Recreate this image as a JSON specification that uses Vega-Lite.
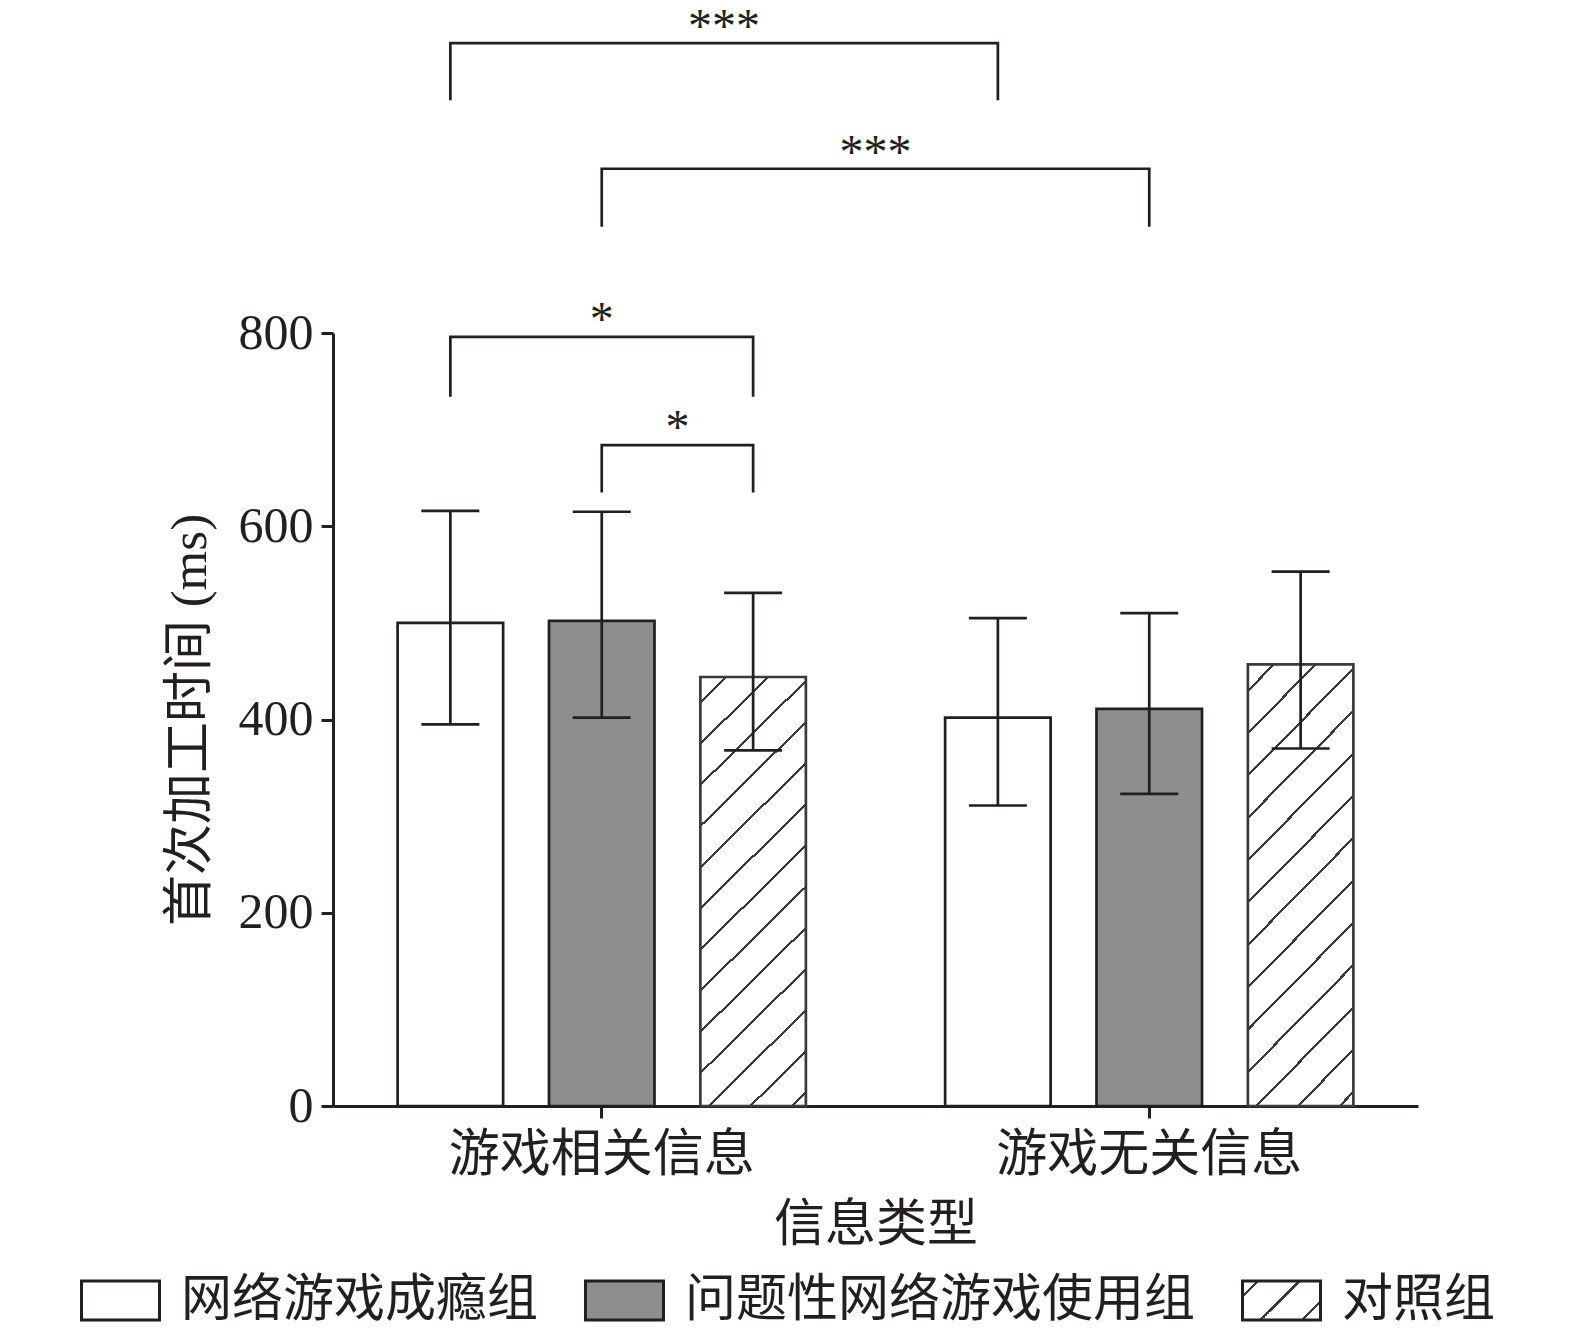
{
  "$schema": "https://vega.github.io/schema/vega-lite/v6.json",
  "width": 1085,
  "height": 773,
  "autosize": {"type": "none"},
  "padding": {"left": 333, "top": 333, "right": 157, "bottom": 225},
  "background": "white",
  "datasets": {
    "bars": [
      {"信息类型": "游戏相关信息", "组别": "网络游戏成瘾组", "均值": 500, "下限": 395, "上限": 616},
      {"信息类型": "游戏相关信息", "组别": "问题性网络游戏使用组", "均值": 502, "下限": 402, "上限": 615},
      {"信息类型": "游戏相关信息", "组别": "对照组", "均值": 444, "下限": 368, "上限": 531},
      {"信息类型": "游戏无关信息", "组别": "网络游戏成瘾组", "均值": 402, "下限": 311, "上限": 505},
      {"信息类型": "游戏无关信息", "组别": "问题性网络游戏使用组", "均值": 411, "下限": 323, "上限": 510},
      {"信息类型": "游戏无关信息", "组别": "对照组", "均值": 457, "下限": 370, "上限": 553}
    ],
    "brackets": [
      {"括号": "A", "点序": 1, "信息类型": "游戏相关信息", "组别": "网络游戏成瘾组", "值": 1041},
      {"括号": "A", "点序": 2, "信息类型": "游戏相关信息", "组别": "网络游戏成瘾组", "值": 1100},
      {"括号": "A", "点序": 3, "信息类型": "游戏无关信息", "组别": "网络游戏成瘾组", "值": 1100},
      {"括号": "A", "点序": 4, "信息类型": "游戏无关信息", "组别": "网络游戏成瘾组", "值": 1041},
      {"括号": "B", "点序": 1, "信息类型": "游戏相关信息", "组别": "问题性网络游戏使用组", "值": 910},
      {"括号": "B", "点序": 2, "信息类型": "游戏相关信息", "组别": "问题性网络游戏使用组", "值": 970},
      {"括号": "B", "点序": 3, "信息类型": "游戏无关信息", "组别": "问题性网络游戏使用组", "值": 970},
      {"括号": "B", "点序": 4, "信息类型": "游戏无关信息", "组别": "问题性网络游戏使用组", "值": 910},
      {"括号": "C", "点序": 1, "信息类型": "游戏相关信息", "组别": "网络游戏成瘾组", "值": 734},
      {"括号": "C", "点序": 2, "信息类型": "游戏相关信息", "组别": "网络游戏成瘾组", "值": 796},
      {"括号": "C", "点序": 3, "信息类型": "游戏相关信息", "组别": "对照组", "值": 796},
      {"括号": "C", "点序": 4, "信息类型": "游戏相关信息", "组别": "对照组", "值": 734},
      {"括号": "D", "点序": 1, "信息类型": "游戏相关信息", "组别": "问题性网络游戏使用组", "值": 635},
      {"括号": "D", "点序": 2, "信息类型": "游戏相关信息", "组别": "问题性网络游戏使用组", "值": 684},
      {"括号": "D", "点序": 3, "信息类型": "游戏相关信息", "组别": "对照组", "值": 684},
      {"括号": "D", "点序": 4, "信息类型": "游戏相关信息", "组别": "对照组", "值": 635}
    ],
    "starsWide": [
      {"标记": "***", "信息类型": "游戏相关信息", "组别": "网络游戏成瘾组", "值": 1100},
      {"标记": "***", "信息类型": "游戏相关信息", "组别": "问题性网络游戏使用组", "值": 970}
    ],
    "starC": [
      {"标记": "*", "信息类型": "游戏相关信息", "组别": "问题性网络游戏使用组", "值": 796}
    ],
    "starD": [
      {"标记": "*", "信息类型": "游戏相关信息", "组别": "问题性网络游戏使用组", "值": 684}
    ]
  },
  "layer": [
    {
      "data": {"name": "bars"},
      "mark": {"type": "bar", "strokeWidth": 2.7},
      "encoding": {
        "x": {
          "field": "信息类型", "type": "nominal",
          "scale": {"domain": ["游戏相关信息", "游戏无关信息"], "paddingInner": 0.2543, "paddingOuter": 0.118},
          "axis": {"title": "信息类型", "labelAngle": 0, "labelPadding": 12, "titlePadding": 20, "labelLimit": 1000, "labelFontSize": 51, "titleFontSize": 51}
        },
        "xOffset": {
          "field": "组别", "type": "nominal",
          "scale": {"domain": ["网络游戏成瘾组", "问题性网络游戏使用组", "对照组"], "paddingInner": 0.303, "paddingOuter": 0}
        },
        "y": {
          "field": "均值", "type": "quantitative",
          "scale": {"domain": [0, 800], "nice": false, "zero": true},
          "axis": {"values": [0, 200, 400, 600, 800], "title": "首次加工时间 (ms)", "labelPadding": 8, "titlePadding": 22, "labelFontSize": 50, "titleFontSize": 51}
        },
        "stroke": {
          "condition": {"test": "datum['组别'] === '对照组'", "value": "#3a3a3a"},
          "value": "#231f20"
        },
        "fill": {
          "condition": {
            "test": "datum['组别'] === '对照组'",
            "value": {
              "gradient": "linear", "x1": 0, "y1": 0, "x2": 0.2846, "y2": 1.1735,
              "stops": [
                {"offset": 0, "color": "#ffffff"},
                {"offset": 0.0453, "color": "#ffffff"}, {"offset": 0.0453, "color": "#3a3a3a"}, {"offset": 0.0509, "color": "#3a3a3a"}, {"offset": 0.0509, "color": "#ffffff"},
                {"offset": 0.1225, "color": "#ffffff"}, {"offset": 0.1225, "color": "#3a3a3a"}, {"offset": 0.1281, "color": "#3a3a3a"}, {"offset": 0.1281, "color": "#ffffff"},
                {"offset": 0.1997, "color": "#ffffff"}, {"offset": 0.1997, "color": "#3a3a3a"}, {"offset": 0.2053, "color": "#3a3a3a"}, {"offset": 0.2053, "color": "#ffffff"},
                {"offset": 0.2769, "color": "#ffffff"}, {"offset": 0.2769, "color": "#3a3a3a"}, {"offset": 0.2825, "color": "#3a3a3a"}, {"offset": 0.2825, "color": "#ffffff"},
                {"offset": 0.3541, "color": "#ffffff"}, {"offset": 0.3541, "color": "#3a3a3a"}, {"offset": 0.3597, "color": "#3a3a3a"}, {"offset": 0.3597, "color": "#ffffff"},
                {"offset": 0.4313, "color": "#ffffff"}, {"offset": 0.4313, "color": "#3a3a3a"}, {"offset": 0.4369, "color": "#3a3a3a"}, {"offset": 0.4369, "color": "#ffffff"},
                {"offset": 0.5085, "color": "#ffffff"}, {"offset": 0.5085, "color": "#3a3a3a"}, {"offset": 0.5141, "color": "#3a3a3a"}, {"offset": 0.5141, "color": "#ffffff"},
                {"offset": 0.5857, "color": "#ffffff"}, {"offset": 0.5857, "color": "#3a3a3a"}, {"offset": 0.5913, "color": "#3a3a3a"}, {"offset": 0.5913, "color": "#ffffff"},
                {"offset": 0.6629, "color": "#ffffff"}, {"offset": 0.6629, "color": "#3a3a3a"}, {"offset": 0.6685, "color": "#3a3a3a"}, {"offset": 0.6685, "color": "#ffffff"},
                {"offset": 0.7401, "color": "#ffffff"}, {"offset": 0.7401, "color": "#3a3a3a"}, {"offset": 0.7457, "color": "#3a3a3a"}, {"offset": 0.7457, "color": "#ffffff"},
                {"offset": 0.8173, "color": "#ffffff"}, {"offset": 0.8173, "color": "#3a3a3a"}, {"offset": 0.8229, "color": "#3a3a3a"}, {"offset": 0.8229, "color": "#ffffff"},
                {"offset": 0.8945, "color": "#ffffff"}, {"offset": 0.8945, "color": "#3a3a3a"}, {"offset": 0.9001, "color": "#3a3a3a"}, {"offset": 0.9001, "color": "#ffffff"},
                {"offset": 0.9717, "color": "#ffffff"}, {"offset": 0.9717, "color": "#3a3a3a"}, {"offset": 0.9773, "color": "#3a3a3a"}, {"offset": 0.9773, "color": "#ffffff"},
                {"offset": 1, "color": "#ffffff"}
              ]
            }
          },
          "field": "组别", "type": "nominal",
          "scale": {
            "domain": ["网络游戏成瘾组", "问题性网络游戏使用组", "对照组"],
            "range": [
              "#ffffff",
              "#8f8e8f",
              {"expr": "({gradient: 'linear', x1: 0, y1: 0, x2: 1.2, y2: 0.6, stops: [{offset: 0, color: '#ffffff'}, {offset: 0.117, color: '#ffffff'}, {offset: 0.117, color: '#3a3a3a'}, {offset: 0.143, color: '#3a3a3a'}, {offset: 0.143, color: '#ffffff'}, {offset: 0.474, color: '#ffffff'}, {offset: 0.474, color: '#3a3a3a'}, {offset: 0.5, color: '#3a3a3a'}, {offset: 0.5, color: '#ffffff'}, {offset: 0.83, color: '#ffffff'}, {offset: 0.83, color: '#3a3a3a'}, {offset: 0.856, color: '#3a3a3a'}, {offset: 0.856, color: '#ffffff'}, {offset: 1, color: '#ffffff'}]})"}
            ]
          },
          "legend": {
            "title": null,
            "orient": "none",
            "legendX": -253,
            "legendY": 927,
            "direction": "horizontal",
            "columns": 3,
            "symbolType": "M-1,-0.5H1V0.5H-1Z",
            "symbolSize": 6084,
            "symbolStrokeWidth": 3,
            "symbolStrokeColor": "#231f20",
            "symbolOpacity": 1,
            "labelFontSize": 51,
            "labelFont": "Liberation Serif, Noto Sans CJK SC",
            "labelColor": "#231f20",
            "labelOffset": 20,
            "columnPadding": 40,
            "labelLimit": 1000
          }
        }
      }
    },
    {
      "data": {"name": "bars"},
      "mark": {"type": "rule", "color": "#231f20", "strokeWidth": 2.7},
      "encoding": {
        "x": {"field": "信息类型", "type": "nominal"},
        "xOffset": {"field": "组别", "type": "nominal"},
        "y": {"field": "下限", "type": "quantitative", "scale": {"domain": [0, 800], "nice": false}},
        "y2": {"field": "上限"}
      }
    },
    {
      "data": {"name": "bars"},
      "mark": {"type": "tick", "orient": "horizontal", "size": 58, "thickness": 2.7, "color": "#231f20", "opacity": 1},
      "encoding": {
        "x": {"field": "信息类型", "type": "nominal"},
        "xOffset": {"field": "组别", "type": "nominal"},
        "y": {"field": "上限", "type": "quantitative", "scale": {"domain": [0, 800], "nice": false}}
      }
    },
    {
      "data": {"name": "bars"},
      "mark": {"type": "tick", "orient": "horizontal", "size": 58, "thickness": 2.7, "color": "#231f20", "opacity": 1},
      "encoding": {
        "x": {"field": "信息类型", "type": "nominal"},
        "xOffset": {"field": "组别", "type": "nominal"},
        "y": {"field": "下限", "type": "quantitative", "scale": {"domain": [0, 800], "nice": false}}
      }
    },
    {
      "data": {"name": "brackets"},
      "mark": {"type": "line", "color": "#231f20", "strokeWidth": 2.7, "strokeJoin": "miter", "strokeCap": "butt", "clip": false},
      "encoding": {
        "x": {"field": "信息类型", "type": "nominal"},
        "xOffset": {"field": "组别", "type": "nominal"},
        "y": {"field": "值", "type": "quantitative", "scale": {"domain": [0, 800], "nice": false}},
        "detail": {"field": "括号", "type": "nominal"},
        "order": {"field": "点序", "type": "quantitative"}
      }
    },
    {
      "data": {"name": "starsWide"},
      "mark": {"type": "text", "font": "Liberation Serif", "fontSize": 48, "color": "#231f20", "align": "center", "baseline": "alphabetic", "dx": 273.75, "dy": -1, "clip": false},
      "encoding": {
        "x": {"field": "信息类型", "type": "nominal"},
        "xOffset": {"field": "组别", "type": "nominal"},
        "y": {"field": "值", "type": "quantitative", "scale": {"domain": [0, 800], "nice": false}},
        "text": {"field": "标记"}
      }
    },
    {
      "data": {"name": "starC"},
      "mark": {"type": "text", "font": "Liberation Serif", "fontSize": 48, "color": "#231f20", "align": "center", "baseline": "alphabetic", "dx": 0, "dy": -2, "clip": false},
      "encoding": {
        "x": {"field": "信息类型", "type": "nominal"},
        "xOffset": {"field": "组别", "type": "nominal"},
        "y": {"field": "值", "type": "quantitative", "scale": {"domain": [0, 800], "nice": false}},
        "text": {"field": "标记"}
      }
    },
    {
      "data": {"name": "starD"},
      "mark": {"type": "text", "font": "Liberation Serif", "fontSize": 48, "color": "#231f20", "align": "center", "baseline": "alphabetic", "dx": 75.7, "dy": -2, "clip": false},
      "encoding": {
        "x": {"field": "信息类型", "type": "nominal"},
        "xOffset": {"field": "组别", "type": "nominal"},
        "y": {"field": "值", "type": "quantitative", "scale": {"domain": [0, 800], "nice": false}},
        "text": {"field": "标记"}
      }
    }
  ],
  "config": {
    "font": "Liberation Serif, Noto Sans CJK SC",
    "view": {"stroke": null},
    "axis": {
      "grid": false,
      "domainColor": "#231f20",
      "domainWidth": 3,
      "tickColor": "#231f20",
      "tickWidth": 3,
      "tickSize": 12,
      "labelColor": "#231f20",
      "titleColor": "#231f20",
      "labelFont": "Liberation Serif, Noto Sans CJK SC",
      "titleFont": "Liberation Serif, Noto Sans CJK SC",
      "labelFontSize": 50,
      "titleFontSize": 51,
      "titleFontWeight": "normal"
    }
  }
}
